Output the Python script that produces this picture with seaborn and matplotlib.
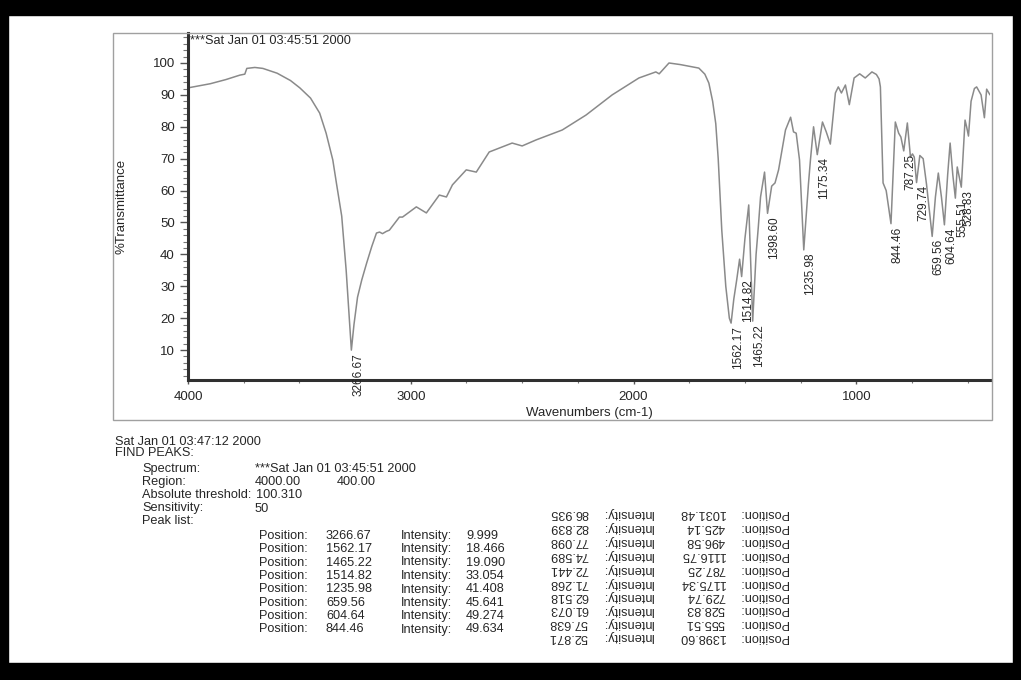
import matplotlib
matplotlib.use("Agg")
import matplotlib.pyplot as plt
from matplotlib.patches import Rectangle
from matplotlib.ticker import MultipleLocator, FixedLocator
import seaborn as sns
import pandas as pd

# ---------------- data ----------------
# spectrum trace (wavenumber cm-1, %T)
wavenumber = [4000, 3900, 3830, 3767, 3745, 3736, 3700, 3664, 3600, 3540, 3498, 3450,
              3409, 3380, 3350, 3333, 3310, 3290, 3276, 3266.67, 3255, 3239, 3220, 3198,
              3175, 3154, 3140, 3127, 3110, 3096, 3070, 3051, 3037, 2975, 2930, 2872,
              2840, 2813, 2751, 2706, 2648, 2545, 2500, 2437, 2320, 2213, 2096, 1976,
              1900, 1885, 1841, 1790, 1752, 1707, 1680, 1662, 1645, 1631, 1620, 1604,
              1586, 1570, 1562.17, 1550, 1537, 1524, 1514.82, 1500, 1483, 1473, 1465.22,
              1450, 1440, 1430, 1412, 1398.60, 1380, 1365, 1349, 1318, 1295, 1282, 1270,
              1255, 1235.98, 1215, 1206, 1192, 1175.34, 1152, 1135, 1116.75, 1094, 1081,
              1067, 1049, 1031.48, 1010, 985, 960, 930, 910, 898, 892, 880, 866, 844.46,
              825, 810, 800, 787.25, 771, 757, 748, 740, 729.74, 715, 700, 685, 659.56,
              645, 632, 618, 604.64, 590, 579, 567, 555.51, 547, 540, 528.83, 518, 512,
              505, 496.58, 485, 470, 460, 440, 425.14, 415, 400]
transmittance = [92.2, 93.5, 94.8, 96.2, 96.5, 98.3, 98.6, 98.3, 96.8, 94.5, 92.2, 89.0,
                 84.3, 78.0, 69.6, 62.0, 52.0, 35.0, 20.0, 9.999, 18.0, 26.6, 32.0, 37.3,
                 42.5, 46.7, 47.0, 46.5, 47.2, 47.6, 50.0, 51.7, 51.7, 54.9, 53.0, 58.6,
                 58.0, 61.8, 66.5, 65.8, 72.1, 74.9, 74.0, 75.9, 79.0, 83.7, 90.0, 95.3,
                 97.2, 96.6, 100.0, 99.5, 99.0, 98.4, 96.5, 93.7, 88.0, 81.0, 70.0, 47.6,
                 30.0, 20.0, 18.466, 26.0, 32.0, 38.5, 33.054, 45.0, 55.5, 35.0, 19.090,
                 40.0, 48.6, 58.0, 65.8, 52.871, 61.4, 62.4, 66.5, 79.0, 83.0, 78.4, 78.0,
                 69.6, 41.408, 62.0, 69.6, 80.0, 71.268, 81.5, 78.4, 74.589, 90.6, 92.5,
                 90.6, 93.1, 86.935, 95.3, 96.6, 95.3, 97.2, 96.4, 95.0, 92.5, 62.4, 60.0,
                 49.634, 81.5, 78.0, 76.8, 72.441, 81.2, 70.5, 71.5, 70.5, 62.518, 71.0,
                 70.0, 62.0, 45.641, 58.0, 65.5, 58.0, 49.274, 65.0, 74.9, 65.0, 57.638,
                 67.4, 65.0, 61.073, 75.0, 82.1, 80.0, 77.098, 88.0, 92.0, 92.5, 90.0,
                 82.839, 91.8, 90.0]

# peak table (as printed, ordered by intensity)
peak_pos = ["3266.67", "1562.17", "1465.22", "1514.82", "1235.98", "659.56", "604.64",
            "844.46", "1398.60", "555.51", "528.83", "729.74", "1175.34", "787.25",
            "1116.75", "496.58", "425.14", "1031.48"]
peak_int = ["9.999", "18.466", "19.090", "33.054", "41.408", "45.641", "49.274",
            "49.634", "52.871", "57.638", "61.073", "62.518", "71.268", "72.441",
            "74.589", "77.098", "82.839", "86.935"]
# peaks that carry a label on the chart
labeled_peaks = ["3266.67", "1562.17", "1514.82", "1465.22", "1398.60", "1235.98",
                 "1175.34", "844.46", "787.25", "729.74", "659.56", "604.64",
                 "555.51", "528.83"]

x_ticks = [4000, 3000, 2000, 1000]
y_ticks = [10, 20, 30, 40, 50, 60, 70, 80, 90, 100]

# ---------------- figure ----------------
W, H = 1021, 680
sns.set_style("ticks")
plt.rcParams["font.family"] = ["Liberation Sans", "DejaVu Sans"]
TXT = "#262626"

fig = plt.figure(figsize=(W / 100, H / 100), dpi=100)
fig.patch.set_facecolor("white")


def fx(px):
    return px / W


def fy(py):
    return 1 - py / H


ax = fig.add_axes([fx(188), fy(380), fx(990) - fx(188), fy(33) - fy(380)])
ax.set_facecolor("none")

df = pd.DataFrame({"wn": wavenumber, "T": transmittance})
sns.lineplot(data=df, x="wn", y="T", ax=ax, sort=False, estimator=None,
             color="#8a8a8a", linewidth=1.1)

ax.set_xlim(4000, 400)
ax.set_ylim(0.63, 109.4)

for s in ["top", "right"]:
    ax.spines[s].set_visible(False)
for s in ["left", "bottom"]:
    ax.spines[s].set_color("#303030")
    ax.spines[s].set_linewidth(2.2)

ax.set_xticks(x_ticks)
ax.set_xticklabels([str(v) for v in x_ticks])
ax.xaxis.set_minor_locator(MultipleLocator(250))
ax.set_yticks(y_ticks)
ax.set_yticklabels([str(v) for v in y_ticks])
ax.yaxis.set_minor_locator(FixedLocator([v for v in range(2, 110, 2) if v % 10]))

ax.tick_params(axis="y", which="major", length=6, width=1, color="#555555",
               pad=3.5, labelsize=9.5, labelcolor=TXT)
ax.tick_params(axis="y", which="minor", length=3.5, width=0.8, color="#777777")
ax.tick_params(axis="x", which="major", length=3, width=1, color="#555555",
               pad=5, labelsize=9.5, labelcolor=TXT)
ax.tick_params(axis="x", which="minor", length=2.5, width=0.8, color="#777777")

ax.set_xlabel("Wavenumbers (cm-1)", fontsize=9.5, color=TXT)
ax.xaxis.set_label_coords(0.5, -0.078)
ax.set_ylabel("%Transmittance", fontsize=9.5, color=TXT)
ax.yaxis.set_label_coords(-0.075, 0.5)

# peak labels
for p in labeled_peaks:
    i = peak_pos.index(p)
    ax.annotate(p, xy=(float(p), float(peak_int[i])), xytext=(0.5, -2),
                textcoords="offset points", rotation=90, ha="left", va="top",
                fontsize=8.5, color=TXT, annotation_clip=False)

# outer thin frame of the plot block
fig.patches.append(Rectangle((fx(113), fy(420)), fx(992) - fx(113), fy(33) - fy(420),
                             transform=fig.transFigure, fill=False,
                             edgecolor="#a0a0a0", linewidth=1.0))

fig.text(fx(190), fy(41), "***Sat Jan 01 03:45:51 2000", fontsize=9.2, color=TXT,
         ha="left", va="center")

# ---------------- report text ----------------
def t(px, py, s, **kw):
    fig.text(fx(px), fy(py), s, fontsize=9.2, color=TXT, ha=kw.pop("ha", "left"),
             va="center", **kw)


t(115, 442, "Sat Jan 01 03:47:12 2000")
t(115, 453, "FIND PEAKS:")
t(142, 469, "Spectrum:")
t(255, 469, "***Sat Jan 01 03:45:51 2000")
t(142, 482, "Region:")
t(255, 482, "4000.00")
t(337, 482, "400.00")
t(142, 495, "Absolute threshold:")
t(256, 495, "100.310")
t(142, 508.5, "Sensitivity:")
t(255, 508.5, "50")
t(142, 521, "Peak list:")

row_y = [536, 549, 562.5, 576, 589.5, 603, 616, 629.5]
for k, yy in enumerate(row_y):
    t(259, yy, "Position:")
    t(326, yy, peak_pos[k])
    t(401, yy, "Intensity:")
    t(466, yy, peak_int[k])

# remaining rows printed upside down
flip_y = [513, 527, 541, 555, 569, 583, 596, 609.5, 623, 636.5]
rest = list(range(len(peak_pos) - 1, len(row_y) - 1, -1))
for yy, k in zip(flip_y, rest):
    for xx, s in [(788, "Position:"), (725, peak_pos[k]), (653, "Intensity:"),
                  (588, peak_int[k])]:
        fig.text(fx(xx), fy(yy), s, fontsize=9.2, color=TXT, rotation=180,
                 ha="right", va="center")

# black scan border
for (x0, y0, x1, y1) in [(0, 0, W, 15), (0, 0, 8, H), (1013, 0, W, H), (0, 663, W, H)]:
    fig.patches.append(Rectangle((fx(x0), fy(y1)), fx(x1) - fx(x0), fy(y0) - fy(y1),
                                 transform=fig.transFigure, color="black", zorder=10))

fig.savefig("out.png", dpi=100)
